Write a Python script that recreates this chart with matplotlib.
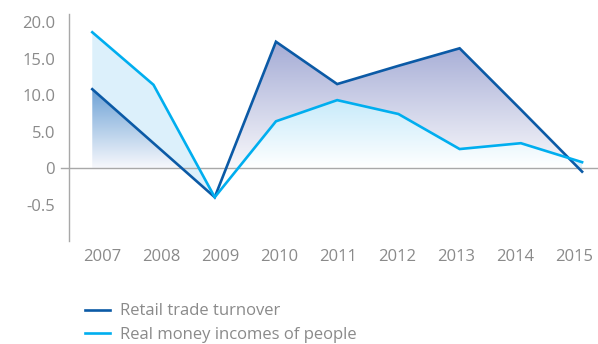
import numpy as np
import matplotlib.pyplot as plt
from matplotlib.colors import to_rgb
from matplotlib.path import Path
from matplotlib.transforms import ScaledTranslation

plt.rcParams['font.family'] = ['Open Sans', 'DejaVu Sans']

years = np.array([2007, 2008, 2009, 2010, 2011, 2012, 2013, 2014, 2015])
retail = np.array([10.8, 3.4, -4.0, 17.3, 11.5, 14.0, 16.4, 8.0, -0.5])
incomes = np.array([18.6, 11.4, -4.0, 6.4, 9.3, 7.4, 2.6, 3.4, 0.8])
ytick_vals = [-5, 0, 5, 10, 15, 20]
ytick_labels = ['-0.5', '0', '5.0', '10.0', '15.0', '20.0']

dark = '#0b5aa6'
light = '#00aeef'
grey = '#8a8a8a'


def gradient_fill(ax, coll, top_color, bottom_color, ytop):
    # paint a vertical gradient clipped to the polygons of a fill_between result
    paths = coll.get_paths()
    coll.remove()
    if not paths:
        return
    n = 256
    t = np.linspace(0, 1, n)[:, None]
    c0 = np.array(to_rgb(bottom_color))
    c1 = np.array(to_rgb(top_color))
    img = (c0 + (c1 - c0) * t)[:, None, :]
    im = ax.imshow(img, extent=[years[0], years[-1], 0, ytop], origin='lower',
                   aspect='auto', interpolation='bilinear', zorder=1)
    im.set_clip_path(Path.make_compound_path(*paths), transform=ax.transData)


fig = plt.figure(figsize=(5.98, 3.44), dpi=100)
ax = fig.add_axes([0.1154, 0.2994, 0.8846, 0.6599])

left = years <= 2009
right = years >= 2009

# area under the retail line, left part
c = ax.fill_between(years, 0, retail, where=left & (retail > 0), interpolate=True)
gradient_fill(ax, c, '#6aa0d5', '#f7f8fc', 11)

# area under the incomes line, right part
c = ax.fill_between(years, 0, incomes, where=right, interpolate=True)
gradient_fill(ax, c, '#c6eafa', '#ffffff', 9.5)

# between the lines where incomes are higher
ax.fill_between(years, retail, incomes, where=incomes >= retail, interpolate=True,
                color='#dcf0fb', linewidth=0, zorder=2)

# between the lines where retail is higher
c = ax.fill_between(years, incomes, retail, where=retail >= incomes, interpolate=True)
gradient_fill(ax, c, '#a4abd5', '#f8f8fb', 17.5)

ax.plot(years, retail, color=dark, lw=1.9, solid_joinstyle='miter', zorder=4,
        label='Retail trade turnover')
ax.plot(years, incomes, color=light, lw=1.9, solid_joinstyle='miter', zorder=4,
        label='Real money incomes of people')

# zero line, running slightly left of the axis
ax.plot([-0.015, 1], [0, 0], transform=ax.get_yaxis_transform(), color='#a8a8a8',
        lw=1, clip_on=False, zorder=3)

ax.set_xlim(2006.62, 2015.26)
ax.set_ylim(-10, 21.1)
ax.set_xticks(years)
ax.set_xticklabels([str(y) for y in years])
ax.set_yticks(ytick_vals)
ax.set_yticklabels(ytick_labels)
ax.tick_params(length=0, labelsize=12, colors=grey)
ax.tick_params(axis='x', pad=6)
ax.tick_params(axis='y', pad=10)

# year labels sit on a slightly tighter spacing than the data points
for i, lab in enumerate(ax.get_xticklabels()):
    dx = (10 - 2.2 * i) / 100
    lab.set_transform(lab.get_transform() + ScaledTranslation(dx, 0, fig.dpi_scale_trans))

for s in ['top', 'right', 'bottom']:
    ax.spines[s].set_visible(False)
ax.spines['left'].set_color('#a8a8a8')
ax.spines['left'].set_linewidth(1)

fig.legend(loc='upper left', bbox_to_anchor=(0.142, 0.118), frameon=False,
           fontsize=12, labelcolor=grey, handlelength=1.5, handletextpad=0.62,
           labelspacing=0.45, borderaxespad=0, borderpad=0)

fig.savefig('out.png', dpi=100)
